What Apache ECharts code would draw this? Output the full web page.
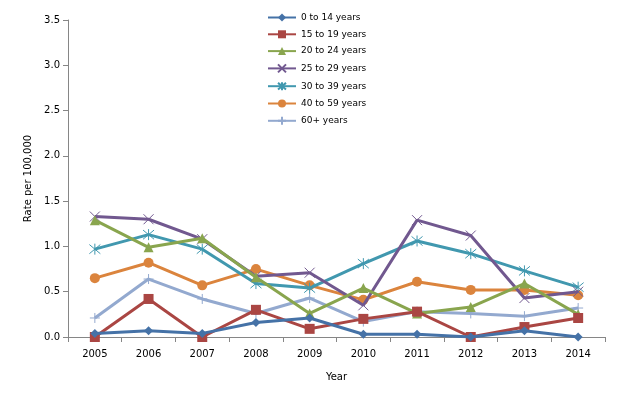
<!DOCTYPE html>
<html><head><meta charset="utf-8">
<script src="https://cdn.jsdelivr.net/npm/echarts@6/dist/echarts.min.js"></script>
<style>html,body{margin:0;padding:0;background:#fff}#c{width:624px;height:394px}</style>
</head><body><div id="c"></div>
<script>
const years = ['2005','2006','2007','2008','2009','2010','2011','2012','2013','2014'];
const seriesNames = ['0 to 14 years','15 to 19 years','20 to 24 years','25 to 29 years','30 to 39 years','40 to 59 years','60+ years'];
const age0to14  = [0.04,0.07,0.04,0.16,0.21,0.03,0.03,0.00,0.07,0.00];
const age15to19 = [0.00,0.42,0.00,0.30,0.09,0.20,0.28,0.00,0.11,0.21];
const age20to24 = [1.29,0.99,1.09,0.66,0.26,0.54,0.26,0.33,0.59,0.25];
const age25to29 = [1.33,1.30,1.08,0.67,0.71,0.35,1.29,1.12,0.43,0.50];
const age30to39 = [0.97,1.13,0.97,0.59,0.54,0.81,1.06,0.92,0.73,0.55];
const age40to59 = [0.65,0.82,0.57,0.75,0.57,0.41,0.61,0.52,0.52,0.46];
const age60plus = [0.21,0.64,0.42,0.26,0.43,0.17,0.28,0.26,0.23,0.32];
const yTicks = [0, 3.5, 0.5];

const colors = ['#4572A7','#AA4643','#89A54E','#71588F','#4198AF','#DB843D','#93A9CF'];
const symbols = ['diamond','rect','triangle',
  'path://M0,0L10,10M10,0L0,10',
  'path://M0,0L10,10M10,0L0,10M5,-1L5,11',
  'circle',
  'path://M5,0L5,10M0,5L10,5'];
const sizes = [9,10,10,10,11,10,10];
const allData = [age0to14,age15to19,age20to24,age25to29,age30to39,age40to59,age60plus];

const chart = echarts.init(document.getElementById('c'));
const font = 'DejaVu Sans';
chart.setOption({
  animation:false,
  color: colors,
  legend:{
    orient:'vertical', left:262, top:8, itemGap:7.8, itemWidth:28, itemHeight:10,
    textStyle:{fontFamily:font, fontSize:9, color:'#000'},
    data: seriesNames
  },
  grid:{left:68, right:19, top:20, bottom:57},
  xAxis:{
    type:'category', data:years, boundaryGap:true,
    name:'Year', nameLocation:'middle', nameGap:35,
    nameTextStyle:{fontFamily:font, fontSize:10, color:'#000'},
    axisLine:{lineStyle:{color:'#868686'}},
    axisTick:{show:true, inside:false, length:5, lineStyle:{color:'#868686'}},
    axisLabel:{fontFamily:font, fontSize:10, color:'#000', margin:12}
  },
  yAxis:{
    type:'value', min:yTicks[0], max:yTicks[1], interval:yTicks[2],
    name:'Rate per 100,000', nameLocation:'middle', nameGap:35, nameRotate:90,
    nameTextStyle:{fontFamily:font, fontSize:10, color:'#000'},
    axisLine:{show:true, lineStyle:{color:'#868686'}},
    axisTick:{show:true, length:5, lineStyle:{color:'#868686'}},
    splitLine:{show:false},
    axisLabel:{fontFamily:font, fontSize:10, color:'#000', margin:8, formatter:v=>v.toFixed(1)}
  },
  series: seriesNames.map((n,i)=>({
    name:n, type:'line', data:allData[i],
    symbol:symbols[i], symbolSize:sizes[i], showSymbol:true,
    lineStyle:{width:3, color:colors[i]},
    itemStyle: i===3||i===4||i===6 ? {color:colors[i], borderColor:colors[i], borderWidth:1} : {color:colors[i]},
    z: 10-i
  }))
});
</script></body></html>
